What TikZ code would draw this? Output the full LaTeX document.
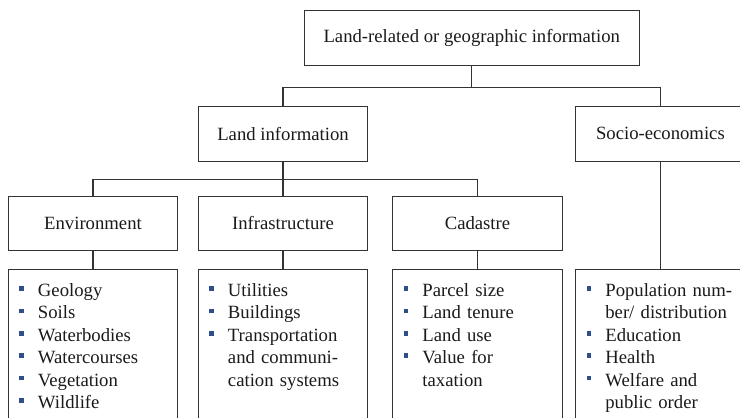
\documentclass[tikz,border=0pt]{standalone}
\usepackage{fontspec}
\setmainfont{Liberation Serif}
\usetikzlibrary{calc}

\definecolor{linegray}{HTML}{333333}
\definecolor{bulletblue}{HTML}{2F4E8C}
\definecolor{textdark}{HTML}{1A1A1A}

% square list bullet hanging left of the item text
\newcommand\itembul{\leavevmode\llap{\textcolor{bulletblue}{\rule[0.3em]{4.5pt}{4.5pt}}\hspace{14.3pt}}}

\begin{document}
\begin{tikzpicture}[x=1pt,y=-1pt,
  box/.style={draw=linegray, line width=1.1pt, minimum width=169.4pt,
    minimum height=54.5pt, inner sep=0pt,
    font=\fontsize{18.7}{22.4}\selectfont, text=textdark},
  listbox/.style={draw=linegray, line width=1.1pt, minimum width=169.4pt,
    minimum height=170pt, anchor=north, inner sep=0pt},
  listtext/.style={anchor=base west, inner sep=0pt, text width=140pt,
    align=left, font=\fontsize{18.7}{22.4}\selectfont, text=textdark},
  link/.style={draw=linegray, line width=1.1pt}]

\useasboundingbox (0,0) rectangle (740,418);
\clip (0,0) rectangle (740,418);

% hierarchy boxes
\node[box, minimum width=335pt] (top) at (471.8,37.85) {Land-related or geographic information};
\node[box] (li)    at (283.0,133.85) {Land information};
\node[box] (se)    at (660.4,133.85) {Socio-economics};
\node[box] (env)   at (93.0,223.4)   {Environment};
\node[box] (infra) at (283.0,223.4)  {Infrastructure};
\node[box] (cad)   at (477.5,223.4)  {Cadastre};

% list frames (running past the lower edge)
\node[listbox] (envl)   at (93.0,269.3)  {};
\node[listbox] (infral) at (283.0,269.3) {};
\node[listbox] (cadl)   at (477.5,269.3) {};
\node[listbox] (socl)   at (660.4,269.3) {};

% list contents
\node[listtext] (envt) at ($(envl.north west)+(30,27.1)$)
  {\itembul Geology\\ \itembul Soils\\ \itembul Waterbodies\\ \itembul Watercourses\\ \itembul Vegetation\\ \itembul Wildlife};
\node[listtext] (infrat) at ($(infral.north west)+(30,27.1)$)
  {\itembul Utilities\\ \itembul Buildings\\ \itembul Transportation\\ and communi-\\ cation systems};
\node[listtext] (cadt) at ($(cadl.north west)+(30,27.1)$)
  {\itembul Parcel size\\ \itembul Land tenure\\ \itembul Land use\\ \itembul Value for\\ taxation};
\node[listtext] (soct) at ($(socl.north west)+(30,27.1)$)
  {\itembul Population num-\\ ber/ distribution\\ \itembul Education\\ \itembul Health\\ \itembul Welfare and\\ public order};

% connectors
\draw[link] (top.south) -- ++(0,21.7) coordinate (bus1);
\draw[link] (li.north) |- (bus1) -| (se.north);
\draw[link] (li.south) -- ++(0,18) coordinate (bus2);
\draw[link] (env.north) |- (bus2) -| (cad.north);
\draw[link] (bus2) -- (infra.north);
\draw[link] (env.south) -- (envl.north);
\draw[link] (infra.south) -- (infral.north);
\draw[link] (cad.south) -- (cadl.north);
\draw[link] (se.south) -- (socl.north);
\end{tikzpicture}
\end{document}
